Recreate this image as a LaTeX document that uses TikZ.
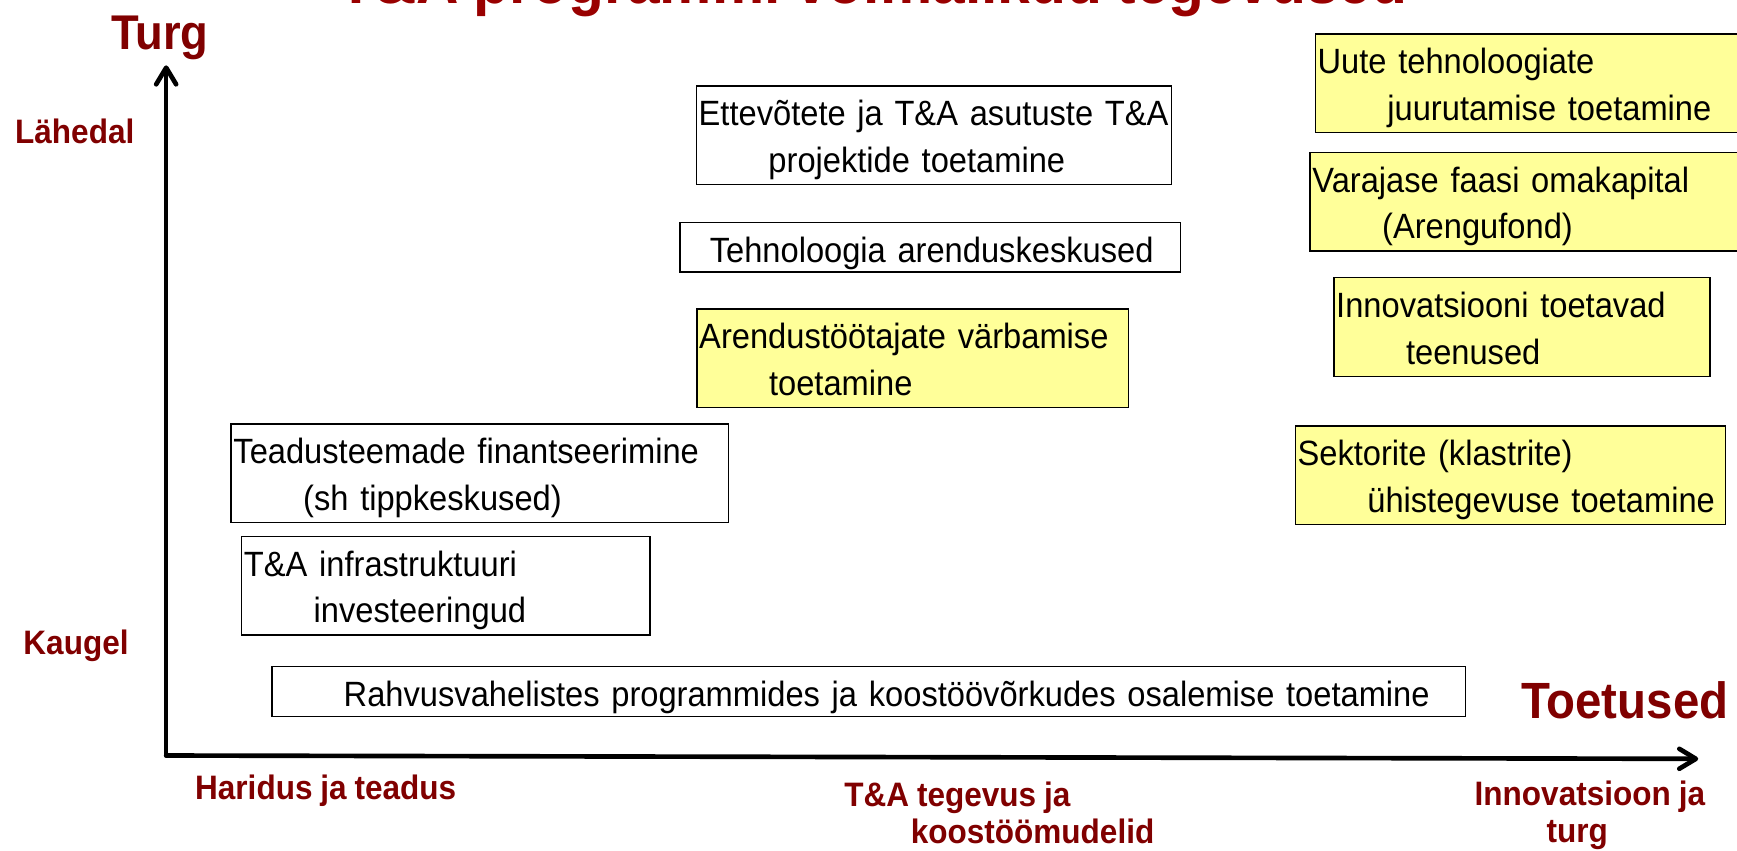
\documentclass[tikz,border=0pt]{standalone}
\usepackage{fontspec}
\setmainfont[FakeStretch=0.93, WordSpace=0.9]{Liberation Sans}
\usepackage{tikz}
\usetikzlibrary{
    positioning,
    arrows.meta
}
\definecolor{labelRed}{RGB}{128, 0, 0}
\definecolor{titleRed}{RGB}{153, 0, 0}
\definecolor{boxYellow}{RGB}{255, 255, 153}
\newcommand{\boxfont}{\fontsize{31.7}{42}\selectfont}
\newcommand{\labfont}{\fontsize{30.6}{33.5}\selectfont\bfseries}
\newcommand{\hiStrut}{\rule{0pt}{36pt}}
\newcommand{\loStrut}{\rule[-11pt]{0pt}{11pt}}
\newcommand{\oneStrut}{\rule[-9pt]{0pt}{45pt}}
\newcommand{\ind}{\hspace*{63pt}}

\begin{document}
\begin{tikzpicture}[x=1pt, y=-1pt,
    box/.style={draw, line width=1.4pt, anchor=north west, align=left, inner xsep=2pt, inner ysep=0pt, font=\boxfont},
    ybox/.style={box, fill=boxYellow},
    lab/.style={inner sep=0pt, align=left, text=labelRed, font=\labfont},
    axis/.style={line width=4.2pt, line cap=round, -{Straight Barb[length=15pt, width=18pt, round]}}]
    \useasboundingbox (0,0) rectangle (1568,768);

    \node[anchor=base, text=titleRed, font=\fontsize{57}{60}\selectfont\bfseries] (title) at (788,3) {T\&A programmi võimalikud tegevused};

    \coordinate (O) at (150,682);
    \coordinate (ytip) at (150,59);
    \coordinate (xtip) at (1533,685);
    \draw[axis] (O) -- (ytip);
    \draw[axis] (O) -- (xtip);

    % teljed
    \node[lab, anchor=base west, font=\fontsize{44}{46}\selectfont\bfseries] (turg) at (100,44.5) {Turg};
    \node[lab, anchor=base west, font=\fontsize{46}{48}\selectfont\bfseries] (toetused) at (1373,649) {Toetused};
    \node[lab, anchor=base west] (lahedal) at (13.5,129.6) {Lähedal};
    \node[lab, anchor=base west] (kaugel) at (21,591) {Kaugel};
    \node[lab, anchor=base west] (haridus) at (176,722) {Haridus ja teadus};
    \node[lab, anchor=north west] (tegevus) at (762,702.5) {\rule{0pt}{25pt}T\&A tegevus ja\\\hspace*{60pt}koostöömudelid};
    \node[lab, anchor=north west] (innov) at (1331,702) {\rule{0pt}{25pt}Innovatsioon ja\\\hspace*{65pt}turg};

    % keskmised
    \node[box, text width=425pt, minimum height=89pt] (ettevotted) at (628,77) {\hiStrut Ettevõtete ja T\&A asutuste T\&A\\\ind projektide toetamine\loStrut};
    \node[box, text width=448pt, minimum height=45pt] (arenduskesk) at (613,200) {\hspace*{25pt}\oneStrut Tehnoloogia arenduskeskused};
    \node[ybox, text width=385.5pt, minimum height=89pt] (varbamine) at (628.5,278) {\hiStrut Arendustöötajate värbamise\\\ind toetamine\loStrut};

    % vasakul
    \node[box, text width=445pt, minimum height=89pt] (teadus) at (208,382) {\hiStrut Teadusteemade finantseerimine\\\ind (sh tippkeskused)\loStrut};
    \node[box, text width=364.5pt, minimum height=89pt] (infra) at (217.5,483.5) {\hiStrut T\&A infrastruktuuri\\\ind investeeringud\loStrut};
    \node[box, text width=1073.4pt, minimum height=45pt] (rahvus) at (244.6,601) {\ind\oneStrut Rahvusvahelistes programmides ja koostöövõrkudes osalemise toetamine};

    % paremal
    \node[ybox, text width=384pt, minimum height=89pt] (uued) at (1186.7,30) {\hiStrut Uute tehnoloogiate\\\ind juurutamise toetamine\loStrut};
    \node[ybox, text width=386pt, minimum height=89pt] (kapital) at (1182,137) {\hiStrut Varajase faasi omakapital\\\ind (Arengufond)\loStrut};
    \node[ybox, text width=335.5pt, minimum height=89pt] (teenused) at (1203.5,250) {\hiStrut Innovatsiooni toetavad\\\ind teenused\loStrut};
    \node[ybox, text width=384.4pt, minimum height=89pt] (klastrid) at (1168.6,383.6) {\hiStrut Sektorite (klastrite)\\\ind ühistegevuse toetamine\loStrut};
\end{tikzpicture}
\end{document}
